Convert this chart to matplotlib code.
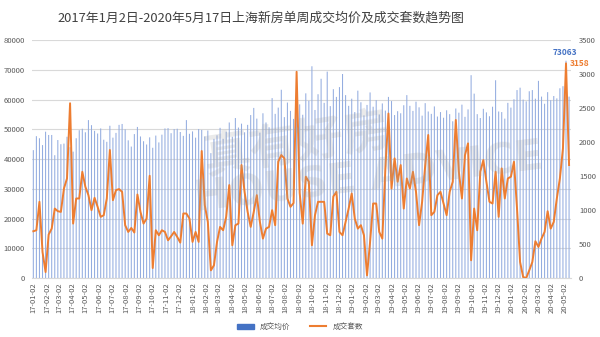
import matplotlib
matplotlib.use('Agg')
import matplotlib.pyplot as plt
import matplotlib.dates as mdates
from matplotlib.patches import Patch
from matplotlib.lines import Line2D
import pandas as pd

plt.rcParams['font.family'] = ['Noto Sans CJK SC', 'DejaVu Sans']

title = '2017年1月2日-2020年5月17日上海新房单周成交均价及成交套数趋势图'
start_date = '2017-01-02'

# 成交均价 (元/平方米), weekly
avg_price = [
    43000, 47700, 47000, 44700, 49200, 48100, 48100, 41300, 46400, 45000,
    45200, 47500, 44000, 42500, 47000, 49700, 50200, 49000, 53100, 51400,
    49500, 48600, 50300, 46500, 45800, 51200, 47200, 48800, 51500, 51800,
    50000, 46300, 44200, 48400, 50800, 47600, 46000, 44900, 47300, 43800,
    47900, 45600, 48200, 50300, 50400, 48700, 50100, 50200, 49100, 47800,
    53100, 48500, 49300, 47200, 50100, 49800, 47600, 49600, 42000, 46800,
    48000, 50500, 46800, 49200, 52300, 47500, 53800, 50600, 51900, 49000,
    51500, 54800, 57200, 53600, 48900, 55400, 52300, 50700, 60500, 55200,
    57300, 63300, 54100, 59000, 56200, 53500, 63700, 58400, 54900, 62100,
    59600, 71200, 56500, 61800, 67000, 58900, 69400, 57800, 63500, 60900,
    64200, 68600, 61500, 57900, 60300, 55800, 63000, 59100, 54700, 58200,
    62400, 57600, 59800, 55000, 58700, 56300, 60900, 59500, 54800, 56100,
    55400, 58100, 61500, 57900, 56200, 59300, 57400, 54600, 58800, 56000,
    55200, 57700, 54300, 55800, 53900, 56400, 55100, 52700, 57000, 55600,
    58300, 54200, 56700, 68200, 62000, 55100, 53800, 56900, 55700, 54400,
    57600, 66500, 56000, 55800, 53600, 58900, 57300, 60100, 63200, 64000,
    60000, 59400, 62800, 63200, 60300, 66300, 61000, 58600, 62500, 59800,
    61200, 60400, 63800, 64500, 73063, 61000,
]

# 成交套数, weekly
deals = [
    688, 703, 1121, 383, 88, 639, 727, 1022, 983, 973,
    1317, 1465, 2571, 801, 1170, 1170, 1563, 1342, 1219, 998,
    1180, 1047, 900, 924, 1170, 1883, 1145, 1293, 1308, 1268,
    777, 678, 737, 669, 1229, 973, 801, 875, 1504, 147,
    703, 629, 703, 678, 555, 614, 678, 605, 521, 949,
    949, 875, 531, 678, 531, 1868, 1072, 826, 113, 187,
    531, 752, 703, 900, 1367, 482, 777, 801, 1662, 1268,
    973, 752, 973, 1219, 826, 580, 727, 752, 998, 777,
    1711, 1809, 1760, 1170, 1047, 1103, 3034, 1250, 800, 1490,
    1416, 482, 924, 1121, 1121, 1121, 654, 629, 1200, 1268,
    678, 629, 826, 1022, 1244, 875, 727, 777, 629, 39,
    531, 1096, 1096, 678, 580, 1613, 2420, 1317, 1760, 1416,
    1662, 1022, 1465, 1317, 1563, 1268, 777, 1121, 1650, 2104,
    924, 973, 1219, 1268, 1096, 924, 1268, 1416, 2325, 1563,
    1170, 1809, 1981, 261, 1022, 703, 1563, 1735, 1416, 1121,
    1096, 1563, 900, 1612, 1170, 1465, 1490, 1711, 1022, 236,
    15, 0, 113, 236, 541, 457, 580, 678, 983, 727,
    826, 1170, 1465, 1907, 3158, 1662,
]

weeks = pd.date_range(start_date, periods=len(deals), freq='7D')

fig = plt.figure(figsize=(6, 3.37), dpi=100)
ax = fig.add_axes([0.053, 0.175, 0.898, 0.706])
ax2 = ax.twinx()

bars = ax.bar(weeks, avg_price, width=2.4, color='#94ade0', linewidth=0)
for b in bars:
    b.set_snap(False)
ax2.plot(weeks, deals, color='#ed7d31', linewidth=1.4)

ax.set_ylim(0, 80000)
ax.set_yticks(range(0, 80001, 10000))
ax2.set_ylim(0, 3500)
ax2.set_yticks(range(0, 3501, 500))
ax.set_xlim(weeks[0] - pd.Timedelta(days=3.5), weeks[-1] + pd.Timedelta(days=3.5))

ax.xaxis.set_major_locator(mdates.MonthLocator(bymonthday=2))
ax.xaxis.set_major_formatter(mdates.DateFormatter('%y-%m-%d'))
for lab in ax.get_xticklabels():
    lab.set_rotation(90)

ax.grid(axis='y', color='#d9d9d9', linewidth=0.8)
ax.set_axisbelow(True)
for a in (ax, ax2):
    for s in a.spines.values():
        s.set_visible(False)
    a.tick_params(length=0, labelsize=5.5, colors='#595959')
ax.spines['bottom'].set_visible(True)
ax.spines['bottom'].set_color('#d9d9d9')
ax.tick_params(axis='x', pad=3)
ax.tick_params(axis='y', pad=5)
ax2.tick_params(axis='y', pad=6)

# data labels for last peak
ax.annotate(f'{avg_price[-2]}', (weeks[-2], avg_price[-2]), xytext=(-1, 3),
            textcoords='offset points', ha='center', va='bottom',
            fontsize=6, fontweight='bold', color='#4472c4')
ax2.annotate(f'{deals[-2]}', (weeks[-2], deals[-2]), xytext=(3, 0),
             textcoords='offset points', ha='left', va='center',
             fontsize=6, fontweight='bold', color='#ed7d31')

# watermark
fig.text(0.495, 0.57, '真有好房', fontsize=34, color='#a0a0a0', alpha=0.22,
         rotation=9, ha='center', va='center', fontweight='bold')
fig.text(0.615, 0.47, 'HOUSE ADVICE', fontsize=30, color='#a0a0a0', alpha=0.22,
         rotation=7, ha='center', va='center', fontweight='bold',
         family=['DejaVu Sans'])

fig.text(0.435, 0.947, title, fontsize=9.3, color='#404040', ha='center', va='center')

handles = [Patch(color='#4472c4', label='成交均价'),
           Line2D([0], [0], color='#ed7d31', linewidth=1.5, label='成交套数')]
fig.legend(handles=handles, loc='center', bbox_to_anchor=(0.5, 0.03), ncol=2,
           frameon=False, fontsize=5.5, handlelength=2.2, handleheight=0.6,
           columnspacing=2.5, labelcolor='#595959')

fig.savefig('out.png', dpi=100)
